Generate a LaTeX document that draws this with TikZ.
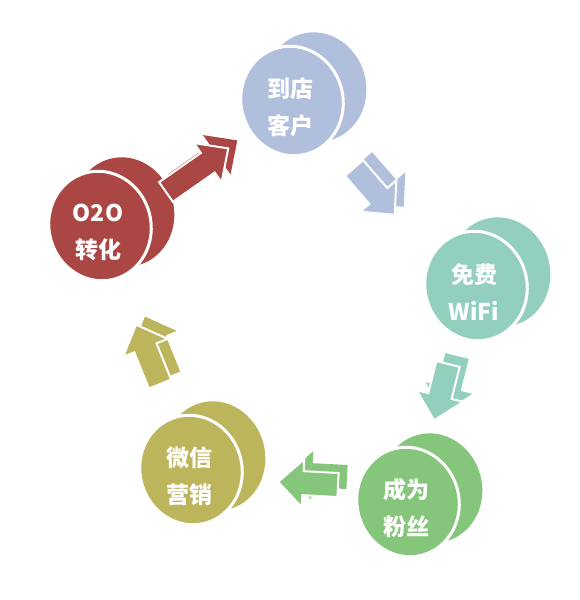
\documentclass[tikz,border=0pt]{standalone}
\usepackage{fontspec}
\newfontfamily\cjk{Noto Sans CJK SC}
\definecolor{cblue}{RGB}{176,191,219}
\definecolor{cteal}{RGB}{147,207,191}
\definecolor{cred}{RGB}{170,71,68}
\definecolor{colive}{RGB}{189,181,92}
\definecolor{cgreen}{RGB}{134,197,124}
\tikzset{
  disctext/.style={text=white, font=\cjk\bfseries\fontsize{23}{37}\selectfont, align=center, inner sep=0pt},
}
% disc: x, y, colour, name, text
\newcommand\drawdisc[5]{%
  \fill[#3, rotate around={15:(#1+24,#2-14)}] (#1+24,#2-14) ellipse [x radius=50pt, y radius=55pt];
  \filldraw[fill=#3, draw=white, line width=3pt, rotate around={15:(#1,#2)}] (#1,#2) ellipse [x radius=51pt, y radius=55pt];
  \node[disctext] (#4) at (#1-2,#2+6) {#5};
}
% arrow: tail x, tail y, angle, length, colour, name
\newcommand\drawarrow[6]{%
  \coordinate (#6) at (#1,#2);
  \begin{scope}[shift={(#1+9,#2-8)}, rotate=#3]
    \fill[#5] (0,-12) -- (#4-25,-12) -- (#4-25,-24) -- (#4,0) -- (#4-25,24) -- (#4-25,12) -- (0,12) -- cycle;
  \end{scope}
  \begin{scope}[shift={(#6)}, rotate=#3]
    \filldraw[fill=#5, draw=white, line width=2pt, line join=miter] (0,-12) -- (#4-25,-12) -- (#4-25,-24) -- (#4,0) -- (#4-25,24) -- (#4-25,12) -- (0,12) -- cycle;
  \end{scope}
}
\begin{document}
\begin{tikzpicture}[x=1pt, y=-1pt]
\useasboundingbox (0,0) rectangle (580,600);
\fill[white] (0,0) rectangle (580,600);
\drawdisc{292}{101}{cblue}{store}{到店\\客户}
\drawdisc{476}{286}{cteal}{wifi}{免费\\WiFi}
\drawdisc{408}{502}{cgreen}{fans}{成为\\粉丝}
\drawdisc{191}{470}{colive}{wechat}{微信\\营销}
\drawdisc{100}{226}{cred}{oto}{O2O\\转化}
\drawarrow{354}{168}{-49}{62}{cblue}{a1}
\drawarrow{448}{364}{-104}{58}{cteal}{a2}
\drawarrow{338}{485}{177}{60}{cgreen}{a3}
\drawarrow{160}{384}{112}{64}{colive}{a4}
\drawarrow{166}{192}{35}{76}{cred}{a5}
\end{tikzpicture}
\end{document}
